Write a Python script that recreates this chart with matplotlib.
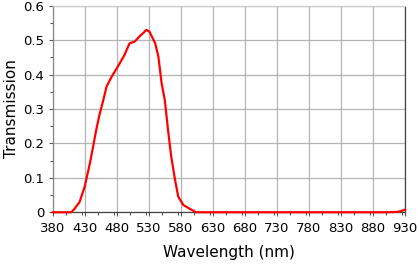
import matplotlib
matplotlib.use("Agg")
import matplotlib.pyplot as plt
from matplotlib.ticker import MultipleLocator

wavelength = [380, 405, 409, 414, 422, 430, 438, 443, 448, 453, 459, 464, 472, 480,
              492, 500, 508, 516, 522, 526, 531, 540, 545, 550, 555, 560, 565, 571,
              576, 584, 594, 604, 700, 800, 900, 918, 925, 930]
transmission = [0, 0, 0, 0.01, 0.03, 0.075, 0.142, 0.19, 0.24, 0.283, 0.326, 0.365,
                0.394, 0.418, 0.457, 0.491, 0.496, 0.512, 0.522, 0.53, 0.525, 0.491,
                0.452, 0.375, 0.326, 0.24, 0.162, 0.094, 0.045, 0.021, 0.01, 0.0,
                0.0, 0.0, 0.0, 0.001, 0.004, 0.008]
xticks = list(range(380, 931, 50))
yticks = [0, 0.1, 0.2, 0.3, 0.4, 0.5, 0.6]
ytick_labels = ["0", "0.1", "0.2", "0.3", "0.4", "0.5", "0.6"]

fig = plt.figure(figsize=(4.19, 2.64), dpi=100)
ax = fig.add_axes([0.1258, 0.196, 0.9666 - 0.1258, 0.978 - 0.196])
ax.plot(wavelength, transmission, color="#ff0000", linewidth=1.6, zorder=3, clip_on=False)
ax.set_xlim(380, 930)
ax.set_ylim(0, 0.6)
ax.set_xticks(xticks)
ax.set_xticklabels([str(v) for v in xticks])
ax.set_yticks(yticks)
ax.set_yticklabels(ytick_labels)
ax.xaxis.set_minor_locator(MultipleLocator(25))
ax.yaxis.set_minor_locator(MultipleLocator(0.05))
ax.grid(True, which="major", color="#b4b4b4", linewidth=0.9)
ax.tick_params(axis="both", which="major", labelsize=9.5, length=3, width=0.8,
               color="#555555", direction="out", pad=3)
ax.tick_params(axis="both", which="minor", length=2.5, width=0.8, color="#555555",
               direction="out")
ax.tick_params(axis="x", which="major", pad=4)
ax.spines["left"].set_color("#888888")
ax.spines["top"].set_color("#cccccc")
ax.spines["right"].set_color("#444444")
ax.spines["bottom"].set_color("#444444")
for s in ax.spines.values():
    s.set_linewidth(0.9)
ax.set_xlabel("Wavelength (nm)", fontsize=11, labelpad=7)
ax.set_ylabel("Transmission", fontsize=11, labelpad=3)
fig.savefig("out.png", dpi=100)
